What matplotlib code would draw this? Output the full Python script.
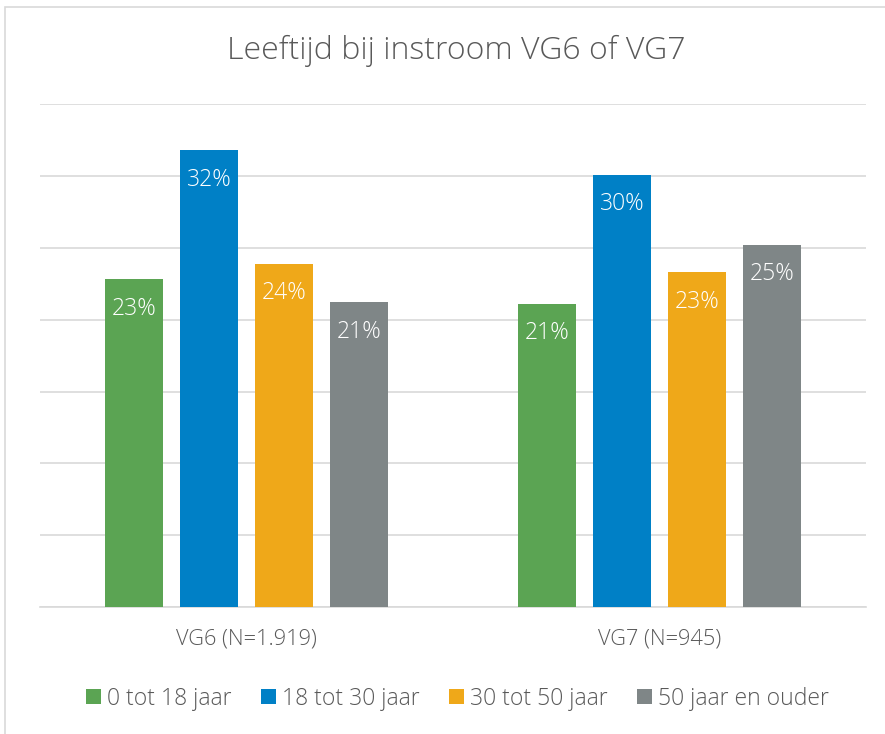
import matplotlib
matplotlib.use('Agg')
import matplotlib.pyplot as plt
import numpy as np
from matplotlib.patches import Rectangle

plt.rcParams['font.family'] = ['Open Sans', 'DejaVu Sans']

groups = ['VG6 (N=1.919)', 'VG7 (N=945)']
series = ['0 tot 18 jaar', '18 tot 30 jaar', '30 tot 50 jaar', '50 jaar en ouder']
values = {
    '0 tot 18 jaar': [22.8, 21.1],
    '18 tot 30 jaar': [31.8, 30.1],
    '30 tot 50 jaar': [23.9, 23.3],
    '50 jaar en ouder': [21.2, 25.2],
}
labels = {
    '0 tot 18 jaar': ['23%', '21%'],
    '18 tot 30 jaar': ['32%', '30%'],
    '30 tot 50 jaar': ['24%', '23%'],
    '50 jaar en ouder': ['21%', '25%'],
}
colors = ['#5BA453', '#0080C6', '#EFA819', '#7F8687']
text_col = '#595959'

fig = plt.figure(figsize=(8.85, 7.34), dpi=100)
ax = fig.add_axes([0.0452, 0.173, 0.9333, 0.685])

# frame around the chart
fig.patches.append(Rectangle((0.006, -0.05), 1.2, 1.04, transform=fig.transFigure,
                             fill=False, edgecolor='#D9D9D9', linewidth=1.2))

x = np.arange(len(groups))
width = 0.14
step = 0.1816
for i, (name, col) in enumerate(zip(series, colors)):
    offs = (i - 1.5) * step
    bars = ax.bar(x + offs, values[name], width, color=col, label=name, zorder=3)
    for b, lab in zip(bars, labels[name]):
        ax.text(b.get_x() + b.get_width() / 2, b.get_height() - 2.05, lab,
                ha='center', va='center', color='white', fontsize=16.5,
                fontweight='light', zorder=4)

ax.set_xlim(-0.5, 1.5)
ax.set_ylim(0, 35)
ax.set_yticks(np.arange(0, 36, 5))
ax.yaxis.grid(True, color='#D9D9D9', linewidth=1.2, zorder=0)
ax.tick_params(axis='y', left=False, labelleft=False)
ax.tick_params(axis='x', bottom=False, colors=text_col, labelsize=15.7, pad=12)
ax.set_xticks(x)
ax.set_xticklabels(groups, fontweight='light')
for s in ['top', 'right', 'left']:
    ax.spines[s].set_visible(False)
ax.spines['bottom'].set_color('#D9D9D9')
ax.spines['bottom'].set_linewidth(1.2)

fig.text(0.515, 0.93, 'Leeftijd bij instroom VG6 of VG7', ha='center', va='center',
         fontsize=23, color=text_col, fontweight='light')

leg = fig.legend(loc='center', bbox_to_anchor=(0.517, 0.048), ncol=4, frameon=False,
                 fontsize=16.5, handlelength=0.65, handleheight=0.65, handletextpad=0.25,
                 columnspacing=1.3)
for t in leg.get_texts():
    t.set_color(text_col)
    t.set_fontweight('light')

fig.savefig('out.png', dpi=100)
